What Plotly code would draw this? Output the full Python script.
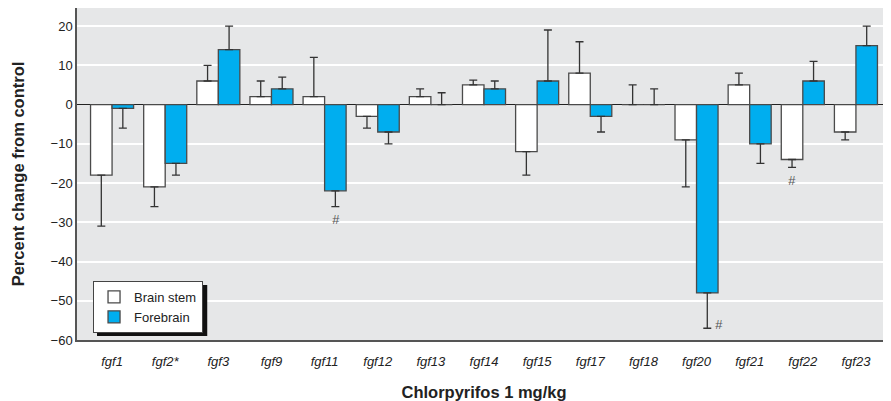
import plotly.graph_objects as go

genes = ["fgf1", "fgf2*", "fgf3", "fgf9", "fgf11", "fgf12", "fgf13", "fgf14",
         "fgf15", "fgf17", "fgf18", "fgf20", "fgf21", "fgf22", "fgf23"]
brain_stem = [-18, -21, 6, 2, 2, -3, 2, 5, -12, 8, 0, -9, 5, -14, -7]
brain_stem_err = [13, 5, 4, 4, 10, 3, 2, 1.2, 6, 8, 5, 12, 3, 2, 2]
forebrain = [-1, -15, 14, 4, -22, -7, 0, 4, 6, -3, 0, -48, -10, 6, 15]
forebrain_err = [5, 3, 6, 3, 4, 3, 3, 2, 13, 4, 4, 9, 5, 5, 5]
# significance markers: (gene, series, placement)
marks = [("fgf11", "fb", "below"), ("fgf20", "fb", "right"), ("fgf22", "bs", "below")]

FONT = "Liberation Sans, Arial, Helvetica, sans-serif"


def err_arrays(vals, errs):
    up, down = [], []
    for v, e in zip(vals, errs):
        if v < 0:
            up.append(0); down.append(e)
        else:
            up.append(e); down.append(0)
    return up, down


fig = go.Figure()
for name, vals, errs, color in [("Brain stem", brain_stem, brain_stem_err, "white"),
                                ("Forebrain", forebrain, forebrain_err, "#00AEEF")]:
    up, down = err_arrays(vals, errs)
    fig.add_trace(go.Bar(
        x=genes, y=vals, name=name,
        marker=dict(color=color, line=dict(color="#4a4a4a", width=1.3)),
        error_y=dict(type="data", symmetric=False, array=up, arrayminus=down,
                     color="#333333", thickness=1.3, width=4),
    ))

gi = {g: i for i, g in enumerate(genes)}
for g, s, pl in marks:
    i = gi[g]
    if s == "fb":
        v, e, xs = forebrain[i], forebrain_err[i], 11
    else:
        v, e, xs = brain_stem[i], brain_stem_err[i], -11
    end = v - e
    if pl == "below":
        fig.add_annotation(x=g, y=end, text="<i>#</i>", showarrow=False, xshift=xs,
                           yshift=-13, font=dict(size=13, color="#555555", family=FONT))
    else:
        fig.add_annotation(x=g, y=end, text="<i>#</i>", showarrow=False, xshift=xs + 11,
                           yshift=4, font=dict(size=13, color="#555555", family=FONT))

# legend shadow
fig.add_shape(type="rect", xref="paper", yref="paper", layer="above",
              x0=0.0246, x1=0.160, y0=0.012, y1=0.1657,
              fillcolor="#111111", line=dict(width=0))

fig.update_layout(
    width=883, height=393,
    margin=dict(l=69, r=0, t=0, b=61),
    paper_bgcolor="white", plot_bgcolor="#E6E7E8",
    barmode="group", bargap=0.19, bargroupgap=0,
    font=dict(family=FONT, size=13, color="#222222"),
    showlegend=True,
    legend=dict(x=0.0197, y=0.1777, xanchor="left", yanchor="top",
                bgcolor="white", bordercolor="#444444", borderwidth=1,
                font=dict(size=13, family=FONT, color="#222222"),
                tracegroupgap=0, itemwidth=30),
    xaxis=dict(range=[-0.66, 14.66], showgrid=False, showline=True,
               linecolor="#555555", linewidth=1.5,
               ticks="outside", ticklen=9, tickcolor="rgba(0,0,0,0)",
               tickfont=dict(size=13, style="italic", family=FONT),
               title=dict(text="<b>Chlorpyrifos 1 mg/kg</b>", standoff=18,
                          font=dict(size=16.5, family=FONT))),
    yaxis=dict(range=[-60, 24.6], tickvals=list(range(-60, 21, 10)),
               showgrid=True, gridcolor="white", gridwidth=1.5,
               zeroline=True, zerolinecolor="#222222", zerolinewidth=1.3,
               showline=True, linecolor="#555555", linewidth=1.5, ticks="",
               tickfont=dict(size=13, family=FONT),
               title=dict(text="<b>Percent change from control</b>", standoff=22,
                          font=dict(size=16.5, family=FONT))),
)

fig.write_html("out.html")
